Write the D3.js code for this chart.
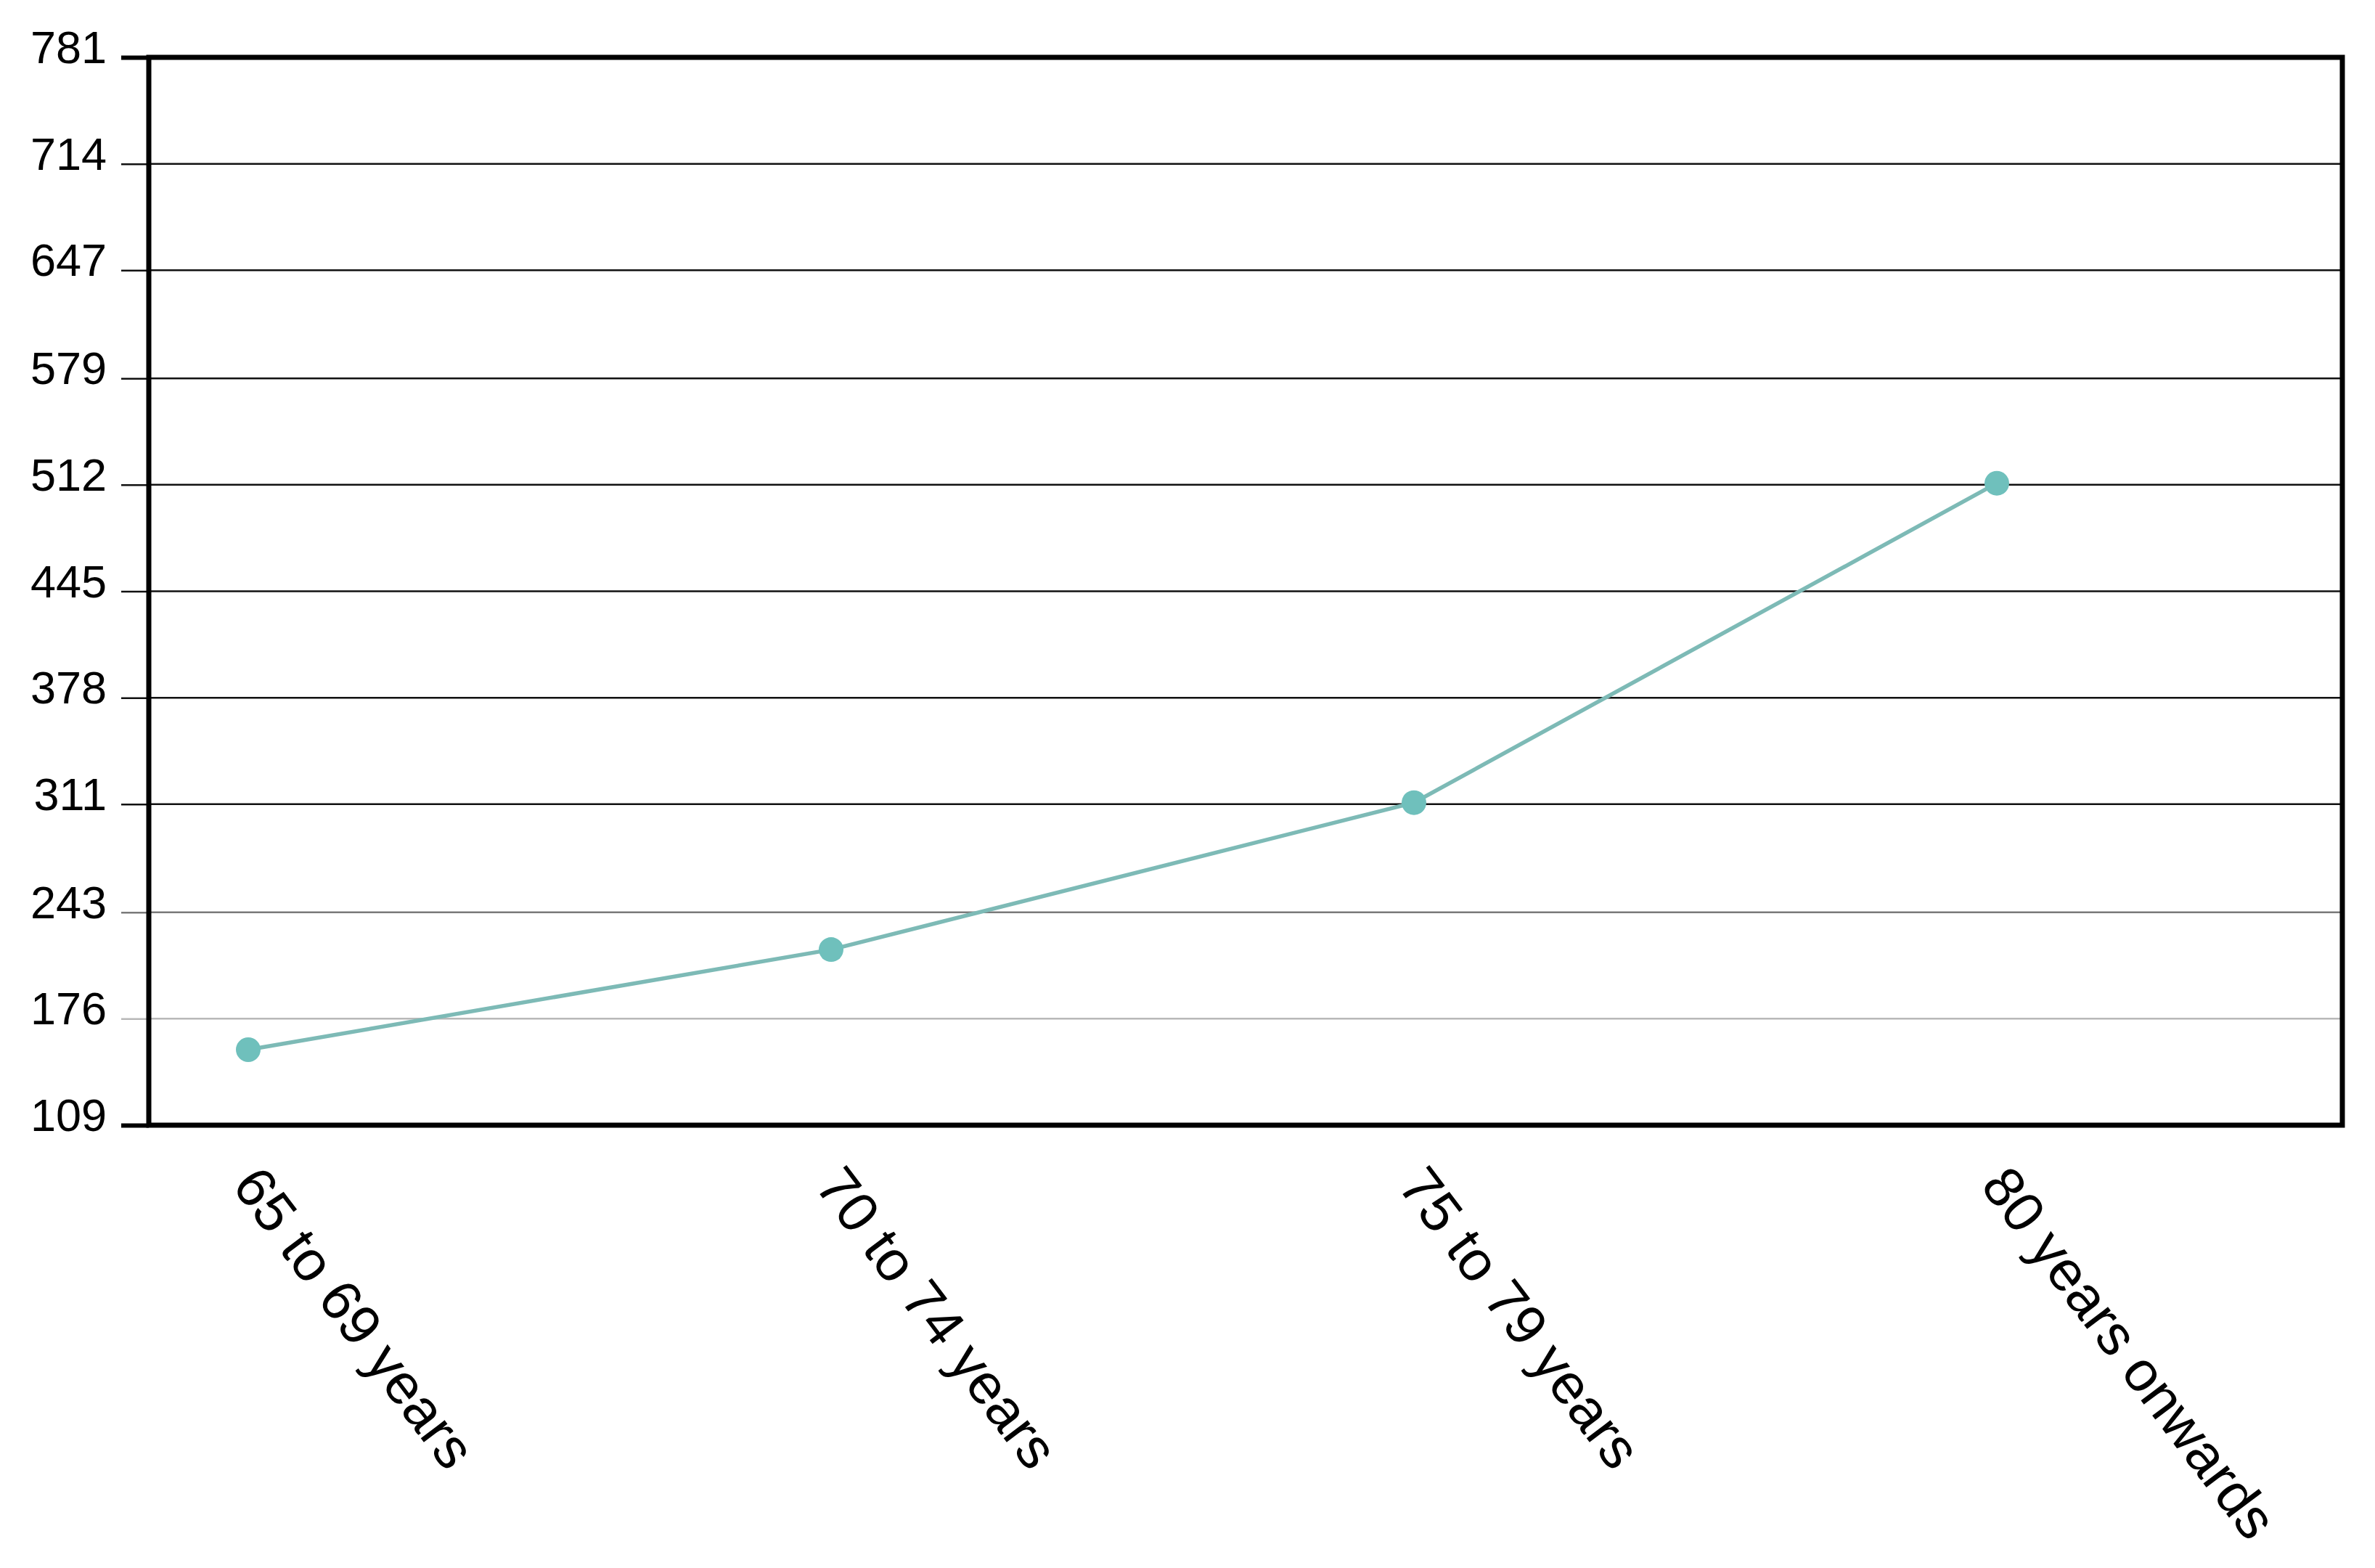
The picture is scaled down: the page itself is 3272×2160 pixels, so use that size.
<!DOCTYPE html>
<html>
<head>
<meta charset="utf-8">
<script src="https://cdn.jsdelivr.net/npm/d3@7"></script>
<style>
  body { margin: 0; background: #fff; }
  text { font-family: "Liberation Sans", Arial, sans-serif; fill: #000; }
</style>
</head>
<body>
<svg id="chart" width="3272" height="2160"></svg>
<script>
// data
var categories = ["65 to 69 years", "70 to 74 years", "75 to 79 years", "80 years onwards"];
var values = [156.5, 219.5, 312, 513];
var yTicks = [109, 176, 243, 311, 378, 445, 512, 579, 647, 714, 781];

var svg = d3.select("#chart"),
    plotLeft = 205,
    plotRight = 3227,
    plotTop = 79,
    plotBottom = 1550;

var xScale = d3.scalePoint().domain(categories).range([342, 2751]),
    yScale = d3.scaleLinear().domain([109, 781]).range([plotBottom, plotTop]);

// grid lines (lower ones render lighter in the original)
var gridColor = function(d) {
    if (d == 176) return "#b8b8b8";
    if (d == 243) return "#7a7a7a";
    return "#111";
};

svg.append("g")
    .selectAll("line")
    .data(yTicks.slice(1, -1))
    .enter().append("line")
    .attr("x1", plotLeft)
    .attr("x2", plotRight)
    .attr("y1", function(d) { return yScale(d); })
    .attr("y2", function(d) { return yScale(d); })
    .attr("stroke", gridColor)
    .attr("stroke-width", 2.5);

// y axis with long outward ticks
var yAxis = svg.append("g")
    .attr("transform", "translate(" + plotLeft + ",0)")
    .call(d3.axisLeft(yScale).tickValues(yTicks).tickSize(38).tickPadding(20).tickSizeOuter(0));

yAxis.select(".domain").remove();
yAxis.selectAll(".tick line")
    .attr("stroke", gridColor)
    .attr("stroke-width", 2.5);
yAxis.selectAll(".tick line")
    .filter(function(d) { return d == 109 || d == 781; })
    .attr("stroke", "#000")
    .attr("stroke-width", 6);
yAxis.selectAll(".tick text")
    .attr("dy", "0.12em")
    .style("font-size", "63px")
    .style("font-family", "'Liberation Sans', Arial, sans-serif");

// frame
svg.append("rect")
    .attr("x", plotLeft)
    .attr("y", plotTop)
    .attr("width", plotRight - plotLeft)
    .attr("height", plotBottom - plotTop)
    .attr("fill", "none")
    .attr("stroke", "#000")
    .attr("stroke-width", 7);

// x labels, rotated
svg.append("g")
    .selectAll("text")
    .data(categories)
    .enter().append("text")
    .attr("transform", function(d) {
        return "translate(" + (xScale(d) - 24) + "," + (plotBottom + 84) + ") rotate(53)";
    })
    .style("font-size", "78px")
    .style("text-anchor", "start")
    .text(function(d) { return d; });

// line and markers
var line = d3.line()
    .x(function(d, i) { return xScale(categories[i]); })
    .y(function(d) { return yScale(d); });

svg.append("path")
    .datum(values)
    .attr("d", line)
    .attr("fill", "none")
    .attr("stroke", "#7dbab6")
    .attr("stroke-width", 5.5);

svg.append("g")
    .selectAll("circle")
    .data(values)
    .enter().append("circle")
    .attr("cx", function(d, i) { return xScale(categories[i]); })
    .attr("cy", function(d) { return yScale(d); })
    .attr("r", 17)
    .attr("fill", "#6fc0bc");
</script>
</body>
</html>
